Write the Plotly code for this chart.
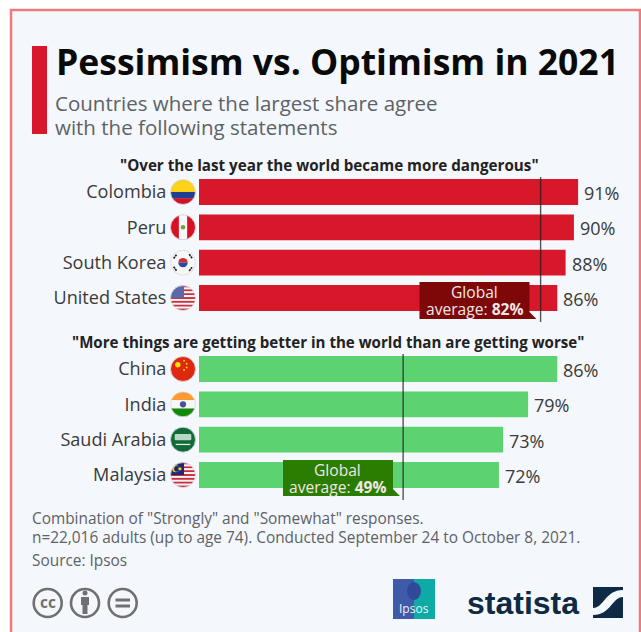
import base64
import plotly.graph_objects as go

W, H = 641, 632
FONT = "Open Sans"

pess_countries = ["Colombia", "Peru", "South Korea", "United States"]
pess_values = [91, 90, 88, 86]
opt_countries = ["China", "India", "Saudi Arabia", "Malaysia"]
opt_values = [86, 79, 73, 72]
pess_average = 82
opt_average = 49

title_text = "Pessimism vs. Optimism in 2021"
subtitle_lines = ["Countries where the largest share agree", "with the following statements"]
pess_statement = '"Over the last year the world became more dangerous"'
opt_statement = '"More things are getting better in the world than are getting worse"'
note_lines = ['Combination of "Strongly" and "Somewhat" responses.',
              "n=22,016 adults (up to age 74). Conducted September 24 to October 8, 2021."]
source_text = "Source: Ipsos"

RED, GREEN = "#d7182a", "#5dd270"
DARK_RED, DARK_GREEN = "#7c0808", "#2a7d00"
INK = "#3a3a3a"
GREY = "#5d6266"
PANEL = "#f4f7fb"
BORDER = "#f07a7a"
NAVY = "#0f2a44"
ICON = "#707070"
X_MAX = 106.1  # scale of about 4.165 px per percentage point


def px(x):
    return x / W


def py(y):
    return 1 - y / H


def svg_uri(body):
    doc = ('<svg xmlns="http://www.w3.org/2000/svg" width="104" height="104" viewBox="0 0 26 26">'
           '<defs><clipPath id="c"><circle cx="13" cy="13" r="12"/></clipPath></defs>'
           f'<g clip-path="url(#c)">{body}</g>'
           '<circle cx="13" cy="13" r="12" fill="none" stroke="#d8dbe0" stroke-width="0.8"/></svg>')
    return "data:image/svg+xml;base64," + base64.b64encode(doc.encode()).decode()


def rows(colors, y0=1, total=24):
    step = total / len(colors)
    return "".join(f'<rect x="0" y="{y0 + i * step}" width="26" height="{step + 0.1}" fill="{c}"/>'
                   for i, c in enumerate(colors))


us_stripes = rows(["#c8313e", "#f5f5f5"] * 6 + ["#c8313e"])
my_stripes = rows(["#cc2b3b", "#f5f5f5"] * 6 + ["#cc2b3b"])
flags = {
    "Colombia": rows(["#fcd116", "#fcd116", "#1f3f94", "#ce1126"]),
    "Peru": '<rect width="26" height="26" fill="#d91023"/><rect x="9" width="8" height="26" fill="#f7f7f7"/>'
            '<circle cx="13" cy="13" r="2.2" fill="#7d9a3c"/>',
    "South Korea": '<rect width="26" height="26" fill="#f7f7f7"/>'
                   '<path d="M8.5 13a4.5 4.5 0 0 1 9 0z" fill="#cd2e3a"/>'
                   '<path d="M8.5 13a4.5 4.5 0 0 0 9 0z" fill="#1f4fa3"/>'
                   '<g stroke="#222" stroke-width="1.6" stroke-dasharray="2 .6">'
                   '<path d="M4 9l3-4M19 5l3 4M4 17l3 4M19 21l3-4"/></g>',
    "United States": us_stripes + '<rect width="14" height="13" fill="#5a6aa8"/>',
    "China": '<rect width="26" height="26" fill="#de2910"/>'
             '<circle cx="8" cy="9" r="2.6" fill="#ffde00"/>'
             '<g fill="#ffde00"><circle cx="14" cy="5" r=".9"/><circle cx="16.5" cy="8" r=".9"/>'
             '<circle cx="16.5" cy="11.5" r=".9"/><circle cx="14" cy="14" r=".9"/></g>',
    "India": rows(["#ff9933", "#f7f7f7", "#138808"]) + '<circle cx="13" cy="13" r="3" fill="#4a4f9a"/>',
    "Saudi Arabia": '<rect width="26" height="26" fill="#116a37"/>'
                    '<rect x="5" y="7.5" width="16" height="6" rx="1" fill="#b9d6c4"/>'
                    '<rect x="6" y="17" width="14" height="1.2" fill="#e6f0ea"/>',
    "Malaysia": my_stripes + '<rect width="14" height="13" fill="#1b2a78"/>'
                '<circle cx="6" cy="7" r="3.4" fill="#ffcc00"/><circle cx="7.2" cy="7" r="2.8" fill="#1b2a78"/>'
                '<circle cx="10" cy="7" r="1.6" fill="#ffcc00"/>',
}

fig = go.Figure()
fig.add_bar(x=pess_values, y=pess_countries, orientation="h", marker=dict(color=RED, line_width=0),
            xaxis="x", yaxis="y")
fig.add_bar(x=opt_values, y=opt_countries, orientation="h", marker=dict(color=GREEN, line_width=0),
            xaxis="x2", yaxis="y2")
fig.update_traces(width=0.73, hoverinfo="skip")

y_common = dict(autorange="reversed", showgrid=False, showline=False, zeroline=False, ticks="outside",
                ticklen=0, ticklabelstandoff=28, tickfont=dict(family=FONT, size=18.1, color=INK))
x_common = dict(range=[0, X_MAX], visible=False, domain=[px(199), 1])

shapes = [
    dict(type="rect", xref="paper", yref="paper", x0=px(11), x1=px(640), y0=py(10), y1=py(700),
         fillcolor=PANEL, line=dict(color=BORDER, width=2.5), layer="below"),
    dict(type="rect", xref="paper", yref="paper", x0=px(32), x1=px(47), y0=py(46), y1=py(134),
         fillcolor=RED, line_width=0, layer="below"),
]
images = []
annotations = []


def text(x, y, s, size, color=GREY, anchor="left", bold=False, family=FONT):
    annotations.append(dict(xref="paper", yref="paper", x=px(x), y=py(y), text=f"<b>{s}</b>" if bold else s,
                            showarrow=False, xanchor=anchor, yanchor="middle", align=anchor,
                            font=dict(family=family, size=size, color=color)))


def paper_shape(kind, x0, x1, y0, y1, fill, **extra):
    shapes.append(dict(type=kind, xref="paper", yref="paper", x0=px(x0), x1=px(x1), y0=py(y0), y1=py(y1),
                       fillcolor=fill, line_width=0, **extra))


def callout(xref, avg, right, top, bottom, line_top, line_bottom, color):
    # reference line at the global average, with its label box just left of it
    shapes.append(dict(type="line", xref=xref, yref="paper", x0=avg, x1=avg, y0=py(line_top), y1=py(line_bottom),
                       line=dict(color="rgba(30,30,30,0.75)", width=1.4)))
    path = (f"M {px(right - 110)} {py(top)} L {px(right)} {py(top)} L {px(right)} {py(bottom - 7)} "
            f"L {px(right + 7)} {py(bottom)} L {px(right - 110)} {py(bottom)} Z")
    shapes.append(dict(type="path", xref="paper", yref="paper", path=path, fillcolor=color, line_width=0))
    mid = right - 55
    text(mid, top + 9.5, "Global", 15.6, "#f0e6e6", "center")
    text(mid, top + 26.5, f"average: <b>{avg}%</b>", 15.6, "#f0e6e6", "center")


callout("x", pess_average, 529.5, 282, 319, 177, 322, DARK_RED)
callout("x2", opt_average, 393, 460, 496, 354, 500, DARK_GREEN)

for names, vals, xref, yref in [(pess_countries, pess_values, "x", "y"), (opt_countries, opt_values, "x2", "y2")]:
    for country, value in zip(names, vals):
        images.append(dict(source=svg_uri(flags[country]), xref="paper", yref=yref, x=px(183), y=country,
                           sizex=px(27), sizey=0.77, xanchor="center", yanchor="middle", layer="above"))
        annotations.append(dict(xref=xref, yref=yref, x=value, y=country, text=f"{value}%", showarrow=False,
                                xanchor="left", yanchor="middle", xshift=4, yshift=-1,
                                font=dict(family=FONT, size=18, color=INK)))

text(54, 61, title_text, 35.5, "#0a0a0a", bold=True)
text(53, 103, subtitle_lines[0], 20.5)
text(53, 127, subtitle_lines[1], 20.5)
text(329, 165, pess_statement, 15.2, "#222222", "center", True)
text(328, 342, opt_statement, 15.1, "#222222", "center", True)
text(30, 518, note_lines[0], 15.4)
text(30, 537, note_lines[1], 15.4)
text(30, 560, source_text, 15.4)

# licence icons
for cx in (47.7, 85, 122.7):
    shapes.append(dict(type="circle", xref="paper", yref="paper", x0=px(cx - 14), x1=px(cx + 14),
                       y0=py(603 - 14), y1=py(603 + 14), line=dict(color=ICON, width=2.6)))
text(47.7, 601.5, "cc", 15.5, ICON, "center", True)
paper_shape("circle", 82.5, 87.5, 590.5, 595.5, ICON)
paper_shape("rect", 81, 89, 597, 605, ICON)
paper_shape("rect", 82.5, 87.5, 604, 614, ICON)
paper_shape("rect", 115.5, 130, 598.5, 601.5, ICON)
paper_shape("rect", 115.5, 130, 604.5, 607.5, ICON)

# Ipsos logo
paper_shape("rect", 393, 414, 579, 619, "#3f5aa8")
paper_shape("rect", 414, 435, 579, 619, "#0eaaa5")
paper_shape("circle", 407, 421, 582, 600, "#2f4a98")
text(414, 608, "Ipsos", 12, "#eef4f8", "center")

# Statista wordmark and icon
text(465, 603, "statista", 32, NAVY, bold=True, family="Liberation Sans")
paper_shape("rect", 593, 623, 587, 618, NAVY)
shapes.append(dict(type="path", xref="paper", yref="paper",
                   path=f"M {px(593)} {py(608)} C {px(604)} {py(608)} {px(605)} {py(590)} {px(623)} {py(590)} "
                        f"L {px(623)} {py(597)} C {px(612)} {py(597)} {px(611)} {py(615)} {px(593)} {py(615)} Z",
                   fillcolor=PANEL, line_width=0))

fig.update_layout(
    width=W, height=H, margin=dict(l=0, r=0, t=0, b=0), autosize=False,
    paper_bgcolor="white", plot_bgcolor="rgba(0,0,0,0)", showlegend=False, barmode="overlay",
    xaxis=dict(x_common, anchor="y"),
    xaxis2=dict(x_common, anchor="y2"),
    yaxis=dict(y_common, domain=[py(315.7), py(174.3)], anchor="x"),
    yaxis2=dict(y_common, domain=[py(492.7), py(351.3)], anchor="x2"),
    shapes=shapes, images=images, annotations=annotations,
)

fig.write_html("out.html")
